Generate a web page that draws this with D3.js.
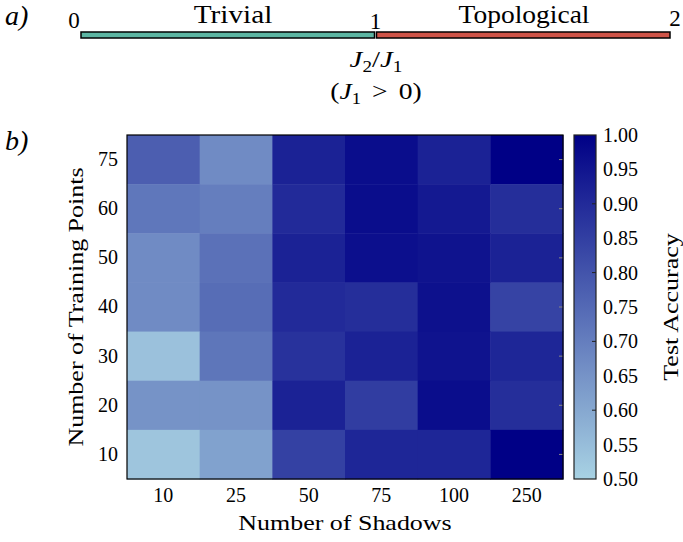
<!DOCTYPE html>
<html>
<head>
	<title>Shadows heatmap</title>
	<style>
		body { margin: 0; background: #fff; }
		text { font-family: "Liberation Serif", serif; fill: #000; }
	</style>
</head>
<body>
	<script src="https://d3js.org/d3.v7.min.js"></script>

<script>

	var width = 683,
	height = 542;

	// data
	var shadows = ["10", "25", "50", "75", "100", "250"];
	var trainPoints = ["75", "60", "50", "40", "30", "20", "10"];
	var acc75 = [0.775, 0.668, 0.92, 0.97, 0.92, 1.00];
	var acc60 = [0.716, 0.70, 0.90, 0.97, 0.94, 0.89];
	var acc50 = [0.668, 0.73, 0.92, 0.965, 0.955, 0.92];
	var acc40 = [0.668, 0.74, 0.90, 0.89, 0.96, 0.84];
	var acc30 = [0.54, 0.72, 0.88, 0.92, 0.955, 0.91];
	var acc20 = [0.65, 0.65, 0.92, 0.855, 0.97, 0.89];
	var acc10 = [0.53, 0.615, 0.845, 0.91, 0.91, 1.00];
	var rows = [acc75, acc60, acc50, acc40, acc30, acc20, acc10];
	var cbTicks = [0.50, 0.55, 0.60, 0.65, 0.70, 0.75, 0.80, 0.85, 0.90, 0.95, 1.00];
	var cbMarks = [0.6, 0.7, 0.8, 0.9];
	var phaseTicks = [0, 1, 2];

	var svg = d3.select("body").append("svg")
		.attr("width", width)
		.attr("height", height);

	// times is narrower than the latex font, so stretch words a bit
	function widen(sel, f) {
		sel.each(function () {
			var w = this.getComputedTextLength();
			d3.select(this).attr("textLength", w * f).attr("lengthAdjust", "spacingAndGlyphs");
		});
	}

	// ---- panel a) ----
	var px = d3.scaleLinear().domain([0, 2]).range([81, 670]);
	var barY = 32, barH = 6;

	svg.append("rect")
		.attr("x", px(0)).attr("y", barY)
		.attr("width", px(1) - px(0) - 1).attr("height", barH)
		.attr("fill", "#5cb5a2").attr("stroke", "#000").attr("stroke-width", 1.5);
	svg.append("rect")
		.attr("x", px(1) + 1).attr("y", barY)
		.attr("width", px(2) - px(1) - 1).attr("height", barH)
		.attr("fill", "#cf5448").attr("stroke", "#000").attr("stroke-width", 1.5);

	svg.selectAll(".ptick").data(phaseTicks).enter().append("text")
		.attr("x", function (d) { return px(d) + (d == 0 ? -7 : d == 2 ? 5 : 0); })
		.attr("y", function (d) { return d == 1 ? 29 : d == 0 ? 28 : 26; })
		.attr("text-anchor", "middle")
		.style("font-size", "23px")
		.text(function (d) { return d; });

	var t1 = svg.append("text").attr("x", 233).attr("y", 23).attr("text-anchor", "middle")
		.style("font-size", "25px").text("Trivial");
	var t2 = svg.append("text").attr("x", 524).attr("y", 23).attr("text-anchor", "middle")
		.style("font-size", "25px").text("Topological");
	widen(t1, 1.17);
	widen(t2, 1.1);

	var j = svg.append("text").attr("x", 376).attr("y", 67).attr("text-anchor", "middle")
		.style("font-size", "24px");
	j.append("tspan").style("font-style", "italic").text("J");
	j.append("tspan").attr("dy", 5).style("font-size", "16px").text("2");
	j.append("tspan").attr("dy", -5).text("/");
	j.append("tspan").style("font-style", "italic").text("J");
	j.append("tspan").attr("dy", 5).style("font-size", "16px").text("1");
	widen(j, 1.2);

	var c = svg.append("text").attr("x", 376).attr("y", 99).attr("text-anchor", "middle")
		.style("font-size", "24px");
	c.append("tspan").text("(");
	c.append("tspan").style("font-style", "italic").text("J");
	c.append("tspan").attr("dy", 5).style("font-size", "16px").text("1");
	c.append("tspan").attr("dy", -5).text("\u2009\u2009>\u2009\u20090)");
	widen(c, 1.15);

	svg.append("text").attr("x", 5).attr("y", 25).style("font-size", "28px")
		.style("font-style", "italic").text("a)");
	svg.append("text").attr("x", 5).attr("y", 150).style("font-size", "28px")
		.style("font-style", "italic").text("b)");

	// ---- panel b) heatmap ----
	var plotLeft = 127, plotRight = 563, plotTop = 135, plotBottom = 479;

	var x = d3.scaleBand().domain(shadows).range([plotLeft, plotRight]);
	var y = d3.scaleBand().domain(trainPoints).range([plotTop, plotBottom]);
	var color = d3.scaleLinear().domain([0.5, 1.0])
		.range(["#a8d2e3", "#000086"])
		.interpolate(d3.interpolateRgb);

	var cells = [];
	rows.forEach(function (r, i) {
		r.forEach(function (v, k) {
			cells.push({ row: trainPoints[i], col: shadows[k], v: v });
		});
	});

	svg.selectAll(".cell").data(cells).enter().append("rect")
		.attr("x", function (d) { return x(d.col); })
		.attr("y", function (d) { return y(d.row); })
		.attr("width", x.bandwidth() + 0.5)
		.attr("height", y.bandwidth() + 0.5)
		.attr("fill", function (d) { return color(d.v); });

	// little inner ticks on the right edge
	svg.selectAll(".rtick").data(trainPoints).enter().append("line")
		.attr("x1", plotRight - 4).attr("x2", plotRight)
		.attr("y1", function (d) { return y(d) + y.bandwidth() / 2; })
		.attr("y2", function (d) { return y(d) + y.bandwidth() / 2; })
		.attr("stroke", "#888").attr("stroke-width", 1);

	svg.append("rect")
		.attr("x", plotLeft).attr("y", plotTop)
		.attr("width", plotRight - plotLeft).attr("height", plotBottom - plotTop)
		.attr("fill", "none").attr("stroke", "#000").attr("stroke-width", 1.2);

	// axes
	var xAxis = d3.axisBottom(x).tickSize(0).tickPadding(9);
	var gx = svg.append("g").attr("transform", "translate(0," + plotBottom + ")").call(xAxis);
	gx.select(".domain").remove();
	gx.selectAll("text").style("font-size", "20px").attr("fill", "#000")
		.style("font-family", "'Liberation Serif', serif");

	var yAxis = d3.axisLeft(y).tickSize(0).tickPadding(9);
	var gy = svg.append("g").attr("transform", "translate(" + plotLeft + ",0)").call(yAxis);
	gy.select(".domain").remove();
	gy.selectAll("text").style("font-size", "20px").attr("fill", "#000")
		.style("font-family", "'Liberation Serif', serif");

	var xl = svg.append("text").attr("x", (plotLeft + plotRight) / 2).attr("y", 530)
		.attr("text-anchor", "middle").style("font-size", "22px")
		.text("Number of Shadows");
	var yl = svg.append("text")
		.attr("transform", "translate(83," + (plotTop + plotBottom) / 2 + ") rotate(-90)")
		.attr("text-anchor", "middle").style("font-size", "22px")
		.text("Number of Training Points");
	widen(xl, 1.18);
	widen(yl, 1.18);

	// ---- colorbar ----
	var cbL = 574, cbW = 22;
	var cy = d3.scaleLinear().domain([0.5, 1.0]).range([plotBottom, plotTop]);
	var defs = svg.append("defs");
	var grad = defs.append("linearGradient").attr("id", "cbgrad")
		.attr("x1", 0).attr("y1", 1).attr("x2", 0).attr("y2", 0);
	d3.range(0, 1.0001, 0.1).forEach(function (t) {
		grad.append("stop").attr("offset", t).attr("stop-color", color(0.5 + 0.5 * t));
	});
	svg.append("rect").attr("x", cbL).attr("y", plotTop)
		.attr("width", cbW).attr("height", plotBottom - plotTop)
		.attr("fill", "url(#cbgrad)").attr("stroke", "#222").attr("stroke-width", 1.2);

	var cbAxis = d3.axisRight(cy).tickValues(cbTicks).tickSize(0).tickPadding(7)
		.tickFormat(d3.format(".2f"));
	var gc = svg.append("g").attr("transform", "translate(" + (cbL + cbW) + ",0)").call(cbAxis);
	gc.select(".domain").remove();
	gc.selectAll("text").style("font-size", "20px").attr("fill", "#000")
		.style("font-family", "'Liberation Serif', serif");

	svg.selectAll(".cbmark").data(cbMarks).enter().append("line")
		.attr("x1", cbL + cbW - 4).attr("x2", cbL + cbW)
		.attr("y1", function (d) { return cy(d); })
		.attr("y2", function (d) { return cy(d); })
		.attr("stroke", "#222").attr("stroke-width", 1);

	var tl = svg.append("text")
		.attr("transform", "translate(678," + (plotTop + plotBottom) / 2 + ") rotate(-90)")
		.attr("text-anchor", "middle").style("font-size", "22px")
		.text("Test Accuracy");
	widen(tl, 1.18);

</script>
</body>
</html>
